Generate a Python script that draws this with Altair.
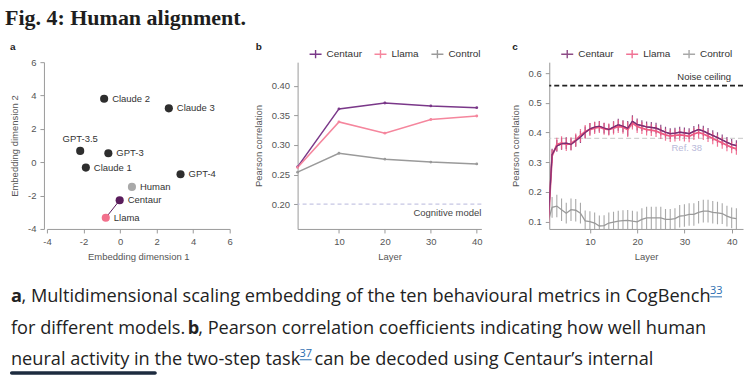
import altair as alt
import pandas as pd

# ---------------- data ----------------
# panel a: MDS embedding
models_a = ["Claude 2", "Claude 3", "GPT-3.5", "GPT-3", "Claude 1", "GPT-4", "Human", "Centaur", "Llama"]
dim1_a = [-0.87, 2.67, -2.18, -0.64, -1.87, 3.31, 0.65, -0.02, -0.78]
dim2_a = [3.81, 3.23, 0.68, 0.54, -0.32, -0.72, -1.48, -2.28, -3.33]
colors_a = ["#2e2e2e", "#2e2e2e", "#2e2e2e", "#2e2e2e", "#2e2e2e", "#2e2e2e", "#a9a9a9", "#5a1d5c", "#f2708c"]

series = ["Centaur", "Llama", "Control"]
colors_b = ["#7a3889", "#f5869d", "#9a9a9a"]
colors_c = ["#7a2d72", "#ee5a82", "#9a9a9a"]

# panel b: two-step task decoding
layers_b = [1, 10, 20, 30, 40]
centaur_b = [0.263, 0.361, 0.371, 0.366, 0.363]
llama_b = [0.262, 0.339, 0.320, 0.343, 0.349]
control_b = [0.254, 0.286, 0.276, 0.271, 0.268]
cognitive_model = 0.20

# panel c: layer-wise decoding
layers_c = list(range(1, 42))
centaur_c = [0.05, 0.325, 0.355, 0.362, 0.364, 0.360, 0.372, 0.385, 0.400, 0.412,
             0.418, 0.421, 0.415, 0.410, 0.418, 0.426, 0.421, 0.414, 0.438, 0.427,
             0.423, 0.419, 0.417, 0.415, 0.408, 0.401, 0.396, 0.398, 0.401, 0.399,
             0.396, 0.404, 0.410, 0.405, 0.397, 0.390, 0.383, 0.375, 0.367, 0.360, 0.356]
centaur_err = [0.02, 0.02, 0.02, 0.02, 0.02, 0.02, 0.02, 0.02, 0.02, 0.02,
               0.018, 0.018, 0.018, 0.018, 0.02, 0.02, 0.02, 0.025, 0.02, 0.02,
               0.018, 0.018, 0.018, 0.018, 0.018, 0.018, 0.018, 0.018, 0.018, 0.018,
               0.018, 0.018, 0.018, 0.018, 0.018, 0.018, 0.018, 0.018, 0.018, 0.018, 0.018]
llama_c = [0.04, 0.320, 0.360, 0.365, 0.360, 0.362, 0.375, 0.390, 0.403, 0.410,
           0.415, 0.418, 0.412, 0.410, 0.415, 0.420, 0.418, 0.410, 0.432, 0.420,
           0.415, 0.410, 0.408, 0.405, 0.398, 0.392, 0.388, 0.390, 0.392, 0.390,
           0.387, 0.395, 0.400, 0.395, 0.388, 0.380, 0.372, 0.365, 0.357, 0.350, 0.345]
llama_err = [0.02, 0.022, 0.022, 0.022, 0.022, 0.022, 0.022, 0.022, 0.022, 0.022,
             0.02, 0.02, 0.02, 0.02, 0.022, 0.022, 0.022, 0.025, 0.022, 0.022,
             0.02, 0.02, 0.02, 0.02, 0.02, 0.02, 0.02, 0.02, 0.02, 0.02,
             0.02, 0.02, 0.02, 0.02, 0.02, 0.02, 0.02, 0.02, 0.02, 0.02, 0.02]
control_c = [0.090, 0.148, 0.152, 0.140, 0.128, 0.140, 0.138, 0.128, 0.102, 0.100,
             0.095, 0.085, 0.086, 0.095, 0.098, 0.101, 0.103, 0.104, 0.101, 0.099,
             0.107, 0.112, 0.112, 0.112, 0.112, 0.107, 0.107, 0.110, 0.118, 0.120,
             0.124, 0.124, 0.131, 0.135, 0.135, 0.131, 0.129, 0.127, 0.118, 0.112, 0.110]
control_err = [0.03, 0.035, 0.038, 0.038, 0.035, 0.038, 0.038, 0.035, 0.035, 0.035,
               0.035, 0.035, 0.035, 0.035, 0.035, 0.035, 0.035, 0.035, 0.035, 0.035,
               0.038, 0.038, 0.038, 0.038, 0.038, 0.035, 0.035, 0.035, 0.038, 0.038,
               0.038, 0.038, 0.038, 0.038, 0.038, 0.038, 0.038, 0.035, 0.035, 0.035, 0.035]
noise_ceiling = 0.558
ref38 = 0.38

# ---------------- style ----------------
FONT = "Liberation Sans, Arial, sans-serif"
CAP_FONT = "Open Sans, Noto Sans, sans-serif"
CAP_SIZE = 18.2
SUP_SIZE = 11
TITLE_FONT = "Liberation Serif, Times New Roman, serif"
A_W, B_W, C_W, H = 183, 184, 194, 167
PLUS = "M-1,0H1M0,-0.7V0.7"


def txt(s, x, y, size, color="#222", weight="normal", font=FONT, align="left", baseline="alphabetic"):
    return alt.Chart(pd.DataFrame({"t": [s]})).mark_text(
        align=align, baseline=baseline, fontSize=size, font=font, fontWeight=weight, color=color
    ).encode(text="t:N", x=alt.value(x), y=alt.value(y))


def hrule(x1, x2, y, color, width):
    return alt.Chart(pd.DataFrame({"k": [0]})).mark_rule(color=color, strokeWidth=width).encode(
        x=alt.value(x1), x2=alt.value(x2), y=alt.value(y))


# ---------------- panel a ----------------
df_a = pd.DataFrame({"model": models_a, "dim1": dim1_a, "dim2": dim2_a})
xa = alt.X("dim1:Q", scale=alt.Scale(domain=[-4, 6], nice=False, zero=False),
           axis=alt.Axis(values=[-4, -2, 0, 2, 4, 6], title="Embedding dimension 1", labelExpr="'' + datum.value"))
ya = alt.Y("dim2:Q", scale=alt.Scale(domain=[-4, 6], nice=False, zero=False),
           axis=alt.Axis(values=[-4, -2, 0, 2, 4, 6], title="Embedding dimension 2", offset=3,
                         labelExpr="'' + datum.value"))
base_a = alt.Chart(df_a)
canvas = alt.Chart(pd.DataFrame({"k": [0]})).mark_rect(opacity=0).encode(
    x=alt.value(-47), x2=alt.value(697), y=alt.value(-62), y2=alt.value(313))
link_a = base_a.transform_filter(
    alt.FieldOneOfPredicate(field="model", oneOf=["Centaur", "Llama"])
).mark_line(color="#5a1d5c", strokeWidth=1).encode(x=xa, y=ya)
pts_a = base_a.mark_circle(size=66, opacity=1).encode(
    x=xa, y=ya, color=alt.Color("model:N", scale=alt.Scale(domain=models_a, range=colors_a), legend=None))
lab_a = base_a.transform_filter("datum.model != 'GPT-3.5'").mark_text(
    align="left", baseline="middle", dx=8, fontSize=9.5, font=FONT, color="#333").encode(x=xa, y=ya, text="model:N")
lab_a2 = base_a.transform_filter("datum.model == 'GPT-3.5'").mark_text(
    align="center", baseline="middle", dy=-12, fontSize=9.5, font=FONT, color="#333").encode(x=xa, y=ya, text="model:N")

caption = [
    txt("Fig. 4: Human alignment.", -42, -37, 22, color="#1e1e1e", weight="bold", font=TITLE_FONT),
    txt("a", -37, -15, 10, weight="bold", baseline="middle"),
    txt("a", -36, 240.5, CAP_SIZE, weight="bold", font=CAP_FONT),
    txt(", Multidimensional scaling embedding of the ten behavioural metrics in CogBench", -25.5, 240.5, CAP_SIZE,
        font=CAP_FONT),
    txt("33", 664, 232, SUP_SIZE, color="#2a6db0", font=CAP_FONT),
    hrule(664, 676, 235, "#2a6db0", 1),
    txt("for different models.", -36, 272.5, CAP_SIZE, font=CAP_FONT),
    txt("b", 141, 272.5, CAP_SIZE, weight="bold", font=CAP_FONT),
    txt(", Pearson correlation coefficients indicating how well human", 151.5, 272.5, CAP_SIZE, font=CAP_FONT),
    txt("neural activity in the two-step task", -36, 303.5, CAP_SIZE, font=CAP_FONT),
    txt("37", 253, 295, SUP_SIZE, color="#2a6db0", font=CAP_FONT),
    hrule(253, 265, 298, "#2a6db0", 1),
    txt("can be decoded using Centaur\u2019s internal", 268, 303.5, CAP_SIZE, font=CAP_FONT),
]
blob = alt.Chart(pd.DataFrame({"k": [0]})).mark_rect(color="#1d2b3f", cornerRadius=4).encode(
    x=alt.value(-37), x2=alt.value(110), y=alt.value(309.5), y2=alt.value(313))

panel_a = alt.layer(canvas, link_a, pts_a, lab_a, lab_a2, blob, *caption).properties(width=A_W, height=H)

# ---------------- panel b ----------------
df_b = pd.DataFrame({
    "layer": layers_b * 3,
    "series_b": [series[0]] * len(layers_b) + [series[1]] * len(layers_b) + [series[2]] * len(layers_b),
    "r": centaur_b + llama_b + control_b,
})
xb = alt.X("layer:Q", scale=alt.Scale(domain=[1, 41], nice=False, zero=False),
           axis=alt.Axis(values=[10, 20, 30, 40], title="Layer"))
yb = alt.Y("r:Q", scale=alt.Scale(domain=[0.158, 0.44], nice=False, zero=False),
           axis=alt.Axis(values=[0.20, 0.25, 0.30, 0.35, 0.40], format=".2f", title="Pearson correlation"))
leg = dict(orient="none", legendX=11, legendY=-15, direction="horizontal", title=None, symbolType=PLUS,
           symbolSize=144, symbolStrokeWidth=1.4, labelFontSize=10, labelFont=FONT, labelColor="#333",
           columnPadding=9, labelOffset=4, padding=0)
color_b = alt.Color("series_b:N", scale=alt.Scale(domain=series, range=colors_b), legend=alt.Legend(**leg))
cog_rule = alt.Chart(pd.DataFrame({"r": [cognitive_model]})).mark_rule(
    strokeDash=[4, 3], color="#c6c6e4", strokeWidth=1.2).encode(y=yb)
lines_b = alt.Chart(df_b).mark_line(strokeWidth=1.5, point=alt.OverlayMarkDef(size=8, filled=True)).encode(
    x=xb, y=yb, color=color_b)
panel_b = alt.layer(
    lines_b, cog_rule,
    txt("Cognitive model", B_W, 151, 9.5, color="#444", align="right", baseline="middle"),
    txt("b", -42, -15, 10, weight="bold", baseline="middle"),
).properties(width=B_W, height=H)

# ---------------- panel c ----------------
n = len(layers_c)
df_c = pd.DataFrame({
    "layer": layers_c * 3,
    "series_c": [series[0]] * n + [series[1]] * n + [series[2]] * n,
    "r": centaur_c + llama_c + control_c,
    "err": centaur_err + llama_err + control_err,
})
df_c["lo"] = df_c["r"] - df_c["err"]
df_c["hi"] = df_c["r"] + df_c["err"]
xc = alt.X("layer:Q", scale=alt.Scale(domain=[1.4, 42.4], nice=False, zero=False),
           axis=alt.Axis(values=[10, 20, 30, 40], title="Layer"))
yc_scale = alt.Scale(domain=[0.075, 0.637], nice=False, zero=False)
yc_axis = alt.Axis(values=[0.1, 0.2, 0.3, 0.4, 0.5, 0.6], format=".1f", title="Pearson correlation")
yc = alt.Y("r:Q", scale=yc_scale, axis=yc_axis)
yc_lo = alt.Y("lo:Q", scale=yc_scale, axis=yc_axis)
color_c = alt.Color("series_c:N", scale=alt.Scale(domain=series, range=colors_c), legend=alt.Legend(**leg))
base_c = alt.Chart(df_c)


def ser(name):
    return base_c.transform_filter(alt.datum.series_c == name)


ref_rule = alt.Chart(pd.DataFrame({"r": [ref38]})).mark_rule(
    strokeDash=[5, 3], color="#d2d2d2", strokeWidth=1.2).encode(y=yc)
noise_rule = alt.Chart(pd.DataFrame({"r": [noise_ceiling]})).mark_rule(
    strokeDash=[5, 3], color="#222", strokeWidth=1.6).encode(y=yc)
layers_list = [ref_rule, noise_rule]
for name, bw, lw in [("Control", 1.1, 1.3), ("Centaur", 1.2, 1.4), ("Llama", 1.2, 1.8)]:
    layers_list.append(ser(name).mark_rule(strokeWidth=bw, clip=True, opacity=0.85).encode(
        x=xc, y=yc_lo, y2="hi:Q", color=color_c))
    layers_list.append(ser(name).mark_line(strokeWidth=lw, clip=True).encode(x=xc, y=yc, color=color_c))
layers_list.append(ser("Centaur").mark_line(strokeWidth=1.2, clip=True).encode(x=xc, y=yc, color=color_c))
panel_c = alt.layer(
    *layers_list,
    txt("Noise ceiling", 182, 15, 9.5, color="#333", align="right", baseline="middle"),
    txt("Ref. 38", 153, 86, 9.5, color="#b9b9d9", align="right", baseline="middle"),
    txt("c", -37, -15, 10, weight="bold", baseline="middle"),
).properties(width=C_W, height=H)

chart = alt.hconcat(panel_a, panel_b, panel_c, spacing=68, bounds="flush").resolve_scale(
    color="independent").resolve_legend(color="independent").properties(padding=0).configure_view(
    stroke=None).configure_axis(
    grid=False, domainColor="#9a9a9a", tickColor="#9a9a9a", labelColor="#555", titleColor="#555",
    labelFont=FONT, titleFont=FONT, labelFontSize=9.5, titleFontSize=9.5, titleFontWeight="normal",
    tickSize=4, labelPadding=4, titlePadding=8, domainWidth=1, tickWidth=1, labelOverlap=False,
    labelFlush=False
).configure_axisX(titlePadding=5)

chart.save("out.html", embed_options={"renderer": "svg", "actions": False})
